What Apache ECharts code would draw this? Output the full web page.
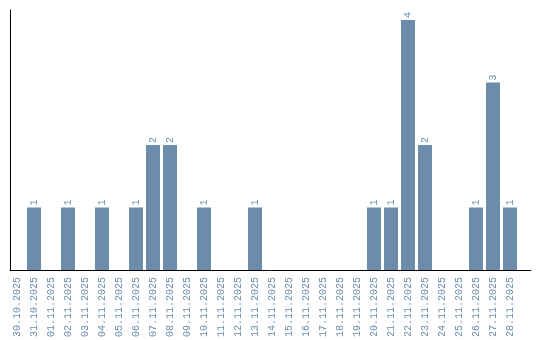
<!DOCTYPE html>
<html><head><meta charset="utf-8">
<script src="https://cdn.jsdelivr.net/npm/echarts@6/dist/echarts.min.js"></script>
<style>html,body{margin:0;padding:0;background:#fff}#c{width:540px;height:340px}</style>
</head><body><div id="c"></div>
<script>
var categories = ["30.10.2025","31.10.2025","01.11.2025","02.11.2025","03.11.2025","04.11.2025","05.11.2025","06.11.2025","07.11.2025","08.11.2025","09.11.2025","10.11.2025","11.11.2025","12.11.2025","13.11.2025","14.11.2025","15.11.2025","16.11.2025","17.11.2025","18.11.2025","19.11.2025","20.11.2025","21.11.2025","22.11.2025","23.11.2025","24.11.2025","25.11.2025","26.11.2025","27.11.2025","28.11.2025"];
var counts = [0,1,0,1,0,1,0,1,2,2,0,1,0,0,1,0,0,0,0,0,0,1,1,4,2,0,0,1,3,1];

var color = '#6b8cab';
var font = 'Liberation Mono';
var chart = echarts.init(document.getElementById('c'), null, {renderer:'canvas'});
chart.setOption({
  animation: false,
  grid: [
    {left: 8.5, width: 510, top: 10, bottom: 70},
    {left: 10, right: 9, top: 10, bottom: 70}
  ],
  xAxis: [
    {type:'category', gridIndex:0, data: categories,
     axisLine:{show:false}, axisTick:{show:false},
     axisLabel:{rotate:90, interval:0, margin:7, color:color, fontFamily:font, fontSize:10}},
    {type:'value', gridIndex:1, min:0, max:1, axisLine:{show:true, onZero:false, lineStyle:{color:'#000', width:1}},
     axisTick:{show:false}, axisLabel:{show:false}, splitLine:{show:false}}
  ],
  yAxis: [
    {type:'value', gridIndex:0, min:0, max:4.16, show:false},
    {type:'value', gridIndex:1, min:0, max:1, axisLine:{show:true, onZero:false, lineStyle:{color:'#000', width:1}},
     axisTick:{show:false}, axisLabel:{show:false}, splitLine:{show:false}}
  ],
  series: [{
    type:'bar', xAxisIndex:0, yAxisIndex:0, data: counts.map(function(v){return v===0?null:v;}),
    barWidth: 14,
    itemStyle:{color:color},
    label:{show:true, position:'top', rotate:90, align:'left', verticalAlign:'middle', distance:2,
      color:color, fontFamily:font, fontSize:10}
  }]
});
</script></body></html>
